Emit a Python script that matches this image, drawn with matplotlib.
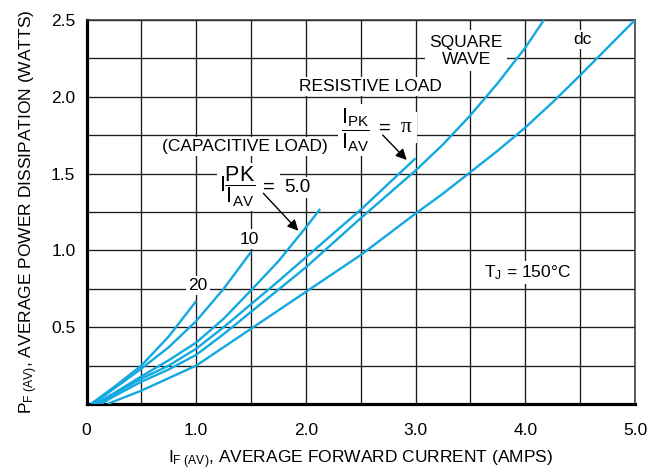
import numpy as np
import matplotlib
matplotlib.use('Agg')
from matplotlib import pyplot as plt

plt.rcParams['font.family'] = ['Liberation Sans', 'DejaVu Sans']
plt.rcParams['mathtext.fontset'] = 'custom'
plt.rcParams['mathtext.rm'] = 'Liberation Sans'
plt.rcParams['mathtext.it'] = 'Liberation Sans'
plt.rcParams['mathtext.default'] = 'regular'

# curves: I_F(AV) in amps, P_F(AV) in watts
x_20 = [0.04, 0.25, 0.5, 0.75, 1.0]
p_20 = [0.0, 0.11, 0.25, 0.44, 0.67]

x_10 = [0.06, 0.25, 0.5, 0.75, 1.0, 1.25, 1.5]
p_10 = [0.0, 0.10, 0.23, 0.37, 0.54, 0.75, 0.99]

x_5 = [0.08, 0.25, 0.5, 0.75, 1.0, 1.25, 1.5, 1.75, 2.0, 2.13]
p_5 = [0.0, 0.07, 0.18, 0.285, 0.40, 0.555, 0.74, 0.93, 1.15, 1.27]

x_pi = [0.10, 0.25, 0.5, 0.75, 1.0, 1.25, 1.5, 1.75, 2.0, 2.5, 3.0]
p_pi = [0.0, 0.065, 0.165, 0.25, 0.36, 0.50, 0.65, 0.80, 0.955, 1.265, 1.60]

x_sq = [0.13, 0.25, 0.5, 0.75, 1.0, 1.25, 1.5, 2.0, 2.5, 3.0, 3.25, 3.5, 3.75, 4.0, 4.17]
p_sq = [0.0, 0.05, 0.145, 0.225, 0.32, 0.455, 0.60, 0.89, 1.21, 1.52, 1.69, 1.88, 2.09, 2.32, 2.5]

x_dc = [0.19, 0.5, 1.0, 1.5, 2.0, 2.5, 3.0, 3.25, 3.5, 3.75, 4.0, 4.25, 4.5, 4.75, 5.0]
p_dc = [0.0, 0.087, 0.25, 0.49, 0.73, 0.97, 1.24, 1.37, 1.51, 1.65, 1.80, 1.965, 2.14, 2.32, 2.5]

curves = [(x_20, p_20), (x_10, p_10), (x_5, p_5), (x_pi, p_pi), (x_sq, p_sq), (x_dc, p_dc)]

x_ticks = [0, 1.0, 2.0, 3.0, 4.0, 5.0]
x_ticklabels = ['0', '1.0', '2.0', '3.0', '4.0', '5.0']
y_ticks = [0.5, 1.0, 1.5, 2.0, 2.5]
y_ticklabels = ['0.5', '1.0', '1.5', '2.0', '2.5']

blue = '#12A8E0'
fs = 12.5
wbox = dict(facecolor='white', edgecolor='none', pad=1.5)

fig = plt.figure(figsize=(6.49, 4.72), dpi=100)
ax = fig.add_axes([86.5 / 649, 68 / 472, 548.5 / 649, 384 / 472])

for xs, ps in curves:
    ax.plot(xs, ps, color=blue, lw=1.7, zorder=4, solid_capstyle='butt', solid_joinstyle='round')

ax.set_xlim(0, 5.0)
ax.set_ylim(0, 2.5)
ax.set_xticks(x_ticks)
ax.set_xticklabels(x_ticklabels)
ax.set_xticks(np.arange(0.5, 5.0, 1.0), minor=True)
ax.set_yticks(y_ticks)
ax.set_yticklabels(y_ticklabels)
ax.set_yticks(np.arange(0.25, 2.5, 0.5), minor=True)
ax.tick_params(which='both', length=0, labelsize=fs)
ax.tick_params(axis='x', pad=14)
ax.tick_params(axis='y', pad=8)
ax.grid(which='both', color='#1a1a1a', lw=0.95, zorder=1)
ax.set_axisbelow(True)

for s in ['left', 'bottom']:
    ax.spines[s].set_linewidth(2.3)
for s in ['top', 'right']:
    ax.spines[s].set_linewidth(1.1)
    ax.spines[s].set_color('#333333')

ax.set_xlabel(r'I$_{F\ (AV)}$, AVERAGE FORWARD CURRENT (AMPS)', fontsize=fs, labelpad=7)
ax.set_ylabel(r'P$_{F\ (AV)}$, AVERAGE POWER DISSIPATION (WATTS)', fontsize=fs, labelpad=8)

# annotations
ax.text(3.46, 2.30, 'SQUARE\nWAVE', fontsize=fs, ha='center', va='center',
        linespacing=1.2, bbox=dict(facecolor='white', edgecolor='none', pad=3), zorder=3)
ax.text(4.525, 2.373, 'dc', fontsize=fs, ha='center', va='center', bbox=wbox, zorder=3)
ax.text(2.59, 2.066, 'RESISTIVE LOAD', fontsize=fs, ha='center', va='center', bbox=wbox, zorder=3)

ax.text(2.448, 1.784, r'$\dfrac{I_{PK}}{I_{AV}}$', fontsize=15.5, ha='center', va='center',
        bbox=wbox, zorder=3)
ax.text(2.716, 1.795, '=', fontsize=fs + 2, ha='center', va='center',
        bbox=dict(facecolor='white', edgecolor='none', pad=5), zorder=3)
ax.text(2.912, 1.80, 'π', fontsize=fs + 3, family=['Liberation Serif', 'DejaVu Serif'],
        ha='center', va='center', bbox=dict(facecolor='white', edgecolor='none', pad=4), zorder=3)

ax.text(1.44, 1.675, '(CAPACITIVE LOAD)', fontsize=fs, ha='center', va='center', bbox=wbox, zorder=3)

ax.text(1.372, 1.413, r'I$\dfrac{PK}{I_{AV}}$', fontsize=15.5, ha='center', va='center',
        bbox=wbox, zorder=3)
ax.text(1.659, 1.41, '=', fontsize=fs + 2, ha='center', va='center',
        bbox=dict(facecolor='white', edgecolor='none', pad=4), zorder=3)
ax.text(1.923, 1.41, '5.0', fontsize=fs + 1, ha='center', va='center', bbox=wbox, zorder=3)

ax.text(1.487, 1.074, '10', fontsize=fs, ha='center', va='center', bbox=wbox, zorder=3)
ax.text(1.015, 0.77, '20', fontsize=fs, ha='center', va='center', bbox=wbox, zorder=3)
ax.text(4.02, 0.856, r'T$_J$ = 150°C', fontsize=fs, ha='center', va='center', bbox=wbox, zorder=3)

arrow = dict(arrowstyle='-|>', color='black', lw=1.0, mutation_scale=16, shrinkA=0, shrinkB=0)
ax.annotate('', xy=(1.931, 1.128), xytext=(1.612, 1.372), arrowprops=arrow, zorder=5)
ax.annotate('', xy=(2.919, 1.589), xytext=(2.70, 1.751), arrowprops=arrow, zorder=5)

fig.savefig('out.png', dpi=100)
